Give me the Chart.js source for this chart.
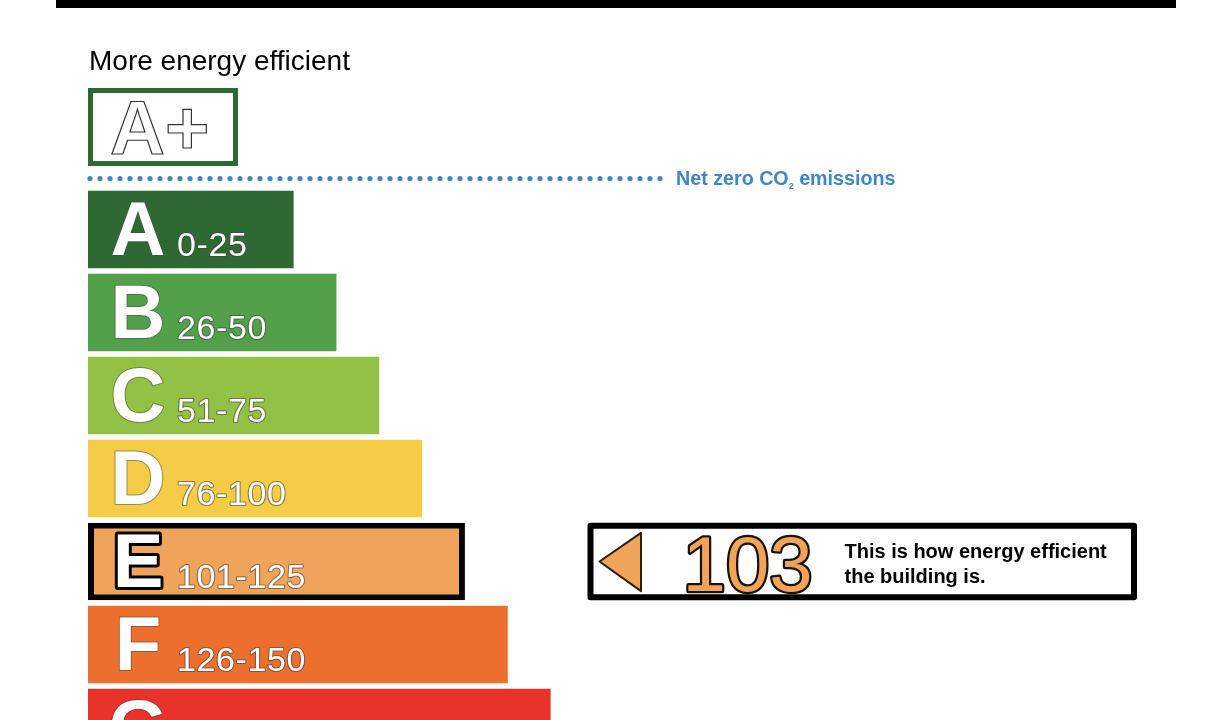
<!DOCTYPE html>
<html>
<head>
<meta charset="utf-8">
<title>Energy rating</title>
<script src="https://cdn.jsdelivr.net/npm/chart.js@4/dist/chart.umd.min.js"></script>
<style>
  html, body { margin: 0; padding: 0; background: #fff; overflow: hidden; }
  #wrap { width: 1227px; height: 800px; position: relative; }
</style>
</head>
<body>
<div id="wrap"><canvas id="epcChart"></canvas></div>
<script>
// ====== Rating bands ======
const bands = ['A', 'B', 'C', 'D', 'E', 'F', 'G'];
const bandRanges = ['0-25', '26-50', '51-75', '76-100', '101-125', '126-150', 'Over 150'];
const bandMax = [25, 50, 75, 100, 125, 150, 175];
const bandColors = ['#2e6933', '#52a14a', '#93c146', '#f5cc45', '#f0a459', '#ec6f2d', '#e8322a'];

// ====== This building ======
const currentScore = 103;
const currentBand = 'E';

const headerText = 'More energy efficient';
const netZeroText = 'Net zero CO';
const indicatorLines = ['This is how energy efficient', 'the building is.'];

const FONT = '"Liberation Sans", Arial, Helvetica, sans-serif';
const currentIdx = bands.indexOf(currentBand);

const epcOverlay = {
  id: 'epcOverlay',
  afterDatasetsDraw(chart) {
    const ctx = chart.ctx;
    const left = chart.chartArea.left;
    const bars = chart.getDatasetMeta(0).data;
    ctx.save();

    // top rule
    ctx.fillStyle = '#000';
    ctx.fillRect(56, 0, 1120, 8);

    // header
    ctx.textBaseline = 'alphabetic';
    ctx.textAlign = 'left';
    ctx.fillStyle = '#000';
    ctx.font = '28px ' + FONT;
    ctx.fillText(headerText, left + 1, 70);

    // A+ box
    ctx.strokeStyle = bandColors[0];
    ctx.lineWidth = 5;
    ctx.strokeRect(left + 2.5, 90.5, 145, 73);
    ctx.font = 'bold 76px ' + FONT;
    ctx.fillStyle = '#fff';
    ctx.fillText('A+', left + 22, 154);
    ctx.strokeStyle = '#333';
    ctx.lineWidth = 1.2;
    ctx.strokeText('A+', left + 22, 154);

    // dotted net zero line
    ctx.fillStyle = '#3f87c8';
    for (let x = left + 2; x <= 660; x += 10) {
      ctx.beginPath();
      ctx.arc(x, 178.5, 2.6, 0, Math.PI * 2);
      ctx.fill();
    }
    ctx.font = 'bold 19.7px ' + FONT;
    ctx.fillText(netZeroText, 676, 185);
    let nx = 676 + ctx.measureText(netZeroText).width;
    ctx.font = 'bold 9px ' + FONT;
    ctx.fillText('2', nx, 189);
    nx += ctx.measureText('2').width;
    ctx.font = 'bold 19.7px ' + FONT;
    ctx.fillText(' emissions', nx, 185);

    // band letters and ranges
    ctx.lineJoin = 'round';
    bars.forEach((bar, i) => {
      const bottom = bar.y + bar.height / 2;
      const baseLine = bottom - 13;
      ctx.font = 'bold 76px ' + FONT;
      ctx.textAlign = 'center';
      ctx.letterSpacing = '0px';
      if (i === currentIdx) {
        ctx.strokeStyle = '#000';
        ctx.lineWidth = 6;
      } else {
        ctx.strokeStyle = 'rgba(70,70,70,0.5)';
        ctx.lineWidth = 2;
      }
      ctx.strokeText(bands[i], bar.base + 50, baseLine);
      ctx.fillStyle = '#fff';
      ctx.fillText(bands[i], bar.base + 50, baseLine);

      ctx.font = '34px ' + FONT;
      ctx.textAlign = 'left';
      ctx.letterSpacing = '0.6px';
      ctx.strokeStyle = 'rgba(70,70,70,0.6)';
      ctx.lineWidth = 2.2;
      ctx.strokeText(bandRanges[i], bar.base + 89, bottom - 12);
      ctx.fillText(bandRanges[i], bar.base + 89, bottom - 12);
      ctx.letterSpacing = '0px';
    });

    // current rating indicator
    const cur = bars[currentIdx];
    const top = cur.y - cur.height / 2;
    const h = cur.height;
    const L = 587.5;
    const R = 1137;
    ctx.strokeStyle = '#000';
    ctx.lineWidth = 6;
    ctx.strokeRect(L + 3, top + 3, R - L - 6, h - 6);

    ctx.beginPath();
    ctx.moveTo(L + 12, cur.y);
    ctx.lineTo(L + 53.5, top + 10);
    ctx.lineTo(L + 53.5, top + h - 9);
    ctx.closePath();
    ctx.fillStyle = bandColors[currentIdx];
    ctx.fill();
    ctx.strokeStyle = '#2b1d10';
    ctx.lineWidth = 2;
    ctx.stroke();

    ctx.font = '78px ' + FONT;
    ctx.textAlign = 'left';
    ctx.strokeStyle = '#1a1208';
    ctx.lineWidth = 4.5;
    ctx.strokeText(String(currentScore), L + 95, top + 68);
    ctx.fillText(String(currentScore), L + 95, top + 68);

    ctx.fillStyle = '#000';
    ctx.font = 'bold 20px ' + FONT;
    ctx.fillText(indicatorLines[0], L + 257, top + 35);
    ctx.fillText(indicatorLines[1], L + 257, top + 60);

    ctx.restore();
  }
};

const ctx = document.getElementById('epcChart').getContext('2d');
const epcChart = new Chart(ctx, {
  type: 'bar',
  data: {
    labels: bands,
    datasets: [{
      data: bandMax,
      base: -95,
      backgroundColor: bandColors,
      borderColor: '#000',
      borderWidth: bands.map((b, i) => (i === currentIdx ? 6 : 0)),
      borderSkipped: false,
      categoryPercentage: 1,
      barPercentage: 0.932
    }]
  },
  options: {
    indexAxis: 'y',
    responsive: true,
    maintainAspectRatio: false,
    animation: false,
    layout: {
      padding: { left: 88, right: 51, top: 188, bottom: 31 }
    },
    plugins: {
      legend: { display: false },
      tooltip: { enabled: false }
    },
    scales: {
      x: { type: 'linear', min: -95, max: 540, display: false },
      y: { type: 'category', offset: true, display: false }
    }
  },
  plugins: [epcOverlay]
});
</script>
</body>
</html>
